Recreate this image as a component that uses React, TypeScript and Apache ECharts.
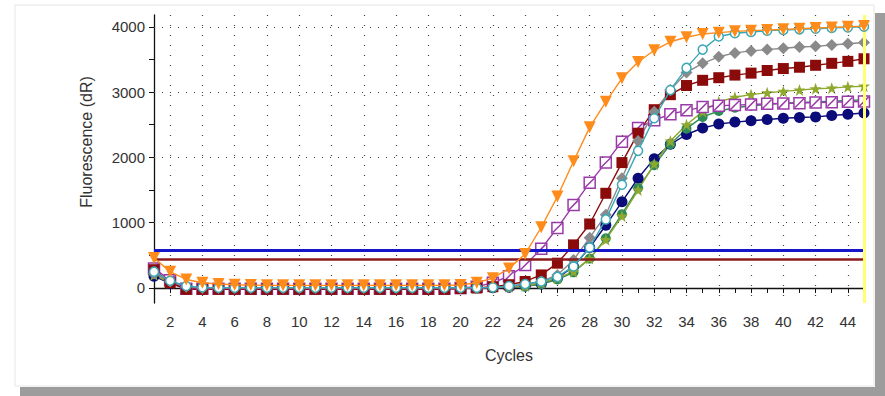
import React, { useEffect, useRef } from "react";
import * as echarts from "echarts";

const cycles: string[] = Array.from({ length: 45 }, (_, i) => String(i + 1));

const yTickValues = [0, 500, 1000, 1500, 2000, 2500, 3000, 3500, 4000];
const yLabelValues = [0, 1000, 2000, 3000, 4000];
const gridYValues = [1000, 2000, 3000, 4000];

const thresholdBlue = 582;
const thresholdRed = 444;

const orange = [460, 250, 130, 80, 60, 50, 45, 40, 40, 40, 40, 40, 40, 40, 40, 40, 40, 40, 40, 45, 80, 150, 300, 520, 930, 1400, 1940, 2460, 2850, 3210, 3460, 3640, 3770, 3840, 3890, 3910, 3930, 3940, 3950, 3960, 3970, 3980, 3990, 4000, 4010];
const cyan = [250, 110, 30, 10, 5, 5, 5, 5, 5, 5, 5, 5, 5, 5, 5, 5, 5, 5, 5, 5, 5, 10, 30, 60, 100, 170, 330, 620, 1050, 1580, 2100, 2600, 3030, 3370, 3650, 3850, 3900, 3920, 3940, 3950, 3960, 3970, 3980, 3990, 4000];
const gray = [220, 100, 20, 0, 0, 0, 0, 0, 0, 0, 0, 0, 0, 0, 0, 0, 0, 0, 0, 0, 0, 10, 20, 50, 100, 200, 430, 770, 1120, 1680, 2250, 2700, 3030, 3300, 3440, 3540, 3600, 3630, 3650, 3670, 3690, 3700, 3720, 3740, 3760];
const darkRed = [280, 80, -20, -20, -20, -20, -20, -20, -20, -20, -20, -20, -20, -20, -20, -20, -20, -20, -20, -10, 0, 20, 50, 100, 200, 380, 660, 980, 1450, 1920, 2370, 2730, 2960, 3100, 3180, 3220, 3260, 3290, 3330, 3360, 3380, 3410, 3440, 3470, 3510];
const purple = [300, 120, -10, -10, -10, -10, -10, -10, -10, -10, -10, -10, -10, -10, -10, -10, -10, -10, -10, 0, 20, 80, 180, 350, 600, 920, 1270, 1610, 1920, 2240, 2450, 2570, 2660, 2720, 2770, 2790, 2800, 2810, 2820, 2825, 2830, 2840, 2845, 2850, 2855];
const olive = [200, 80, 0, 0, 0, 0, 0, 0, 0, 0, 0, 0, 0, 0, 0, 0, 0, 0, 0, 0, 0, 10, 20, 30, 80, 150, 250, 450, 740, 1100, 1500, 1900, 2250, 2500, 2700, 2850, 2920, 2960, 2990, 3010, 3030, 3050, 3060, 3080, 3090];
const green = [230, 90, 0, 0, 0, 0, 0, 0, 0, 0, 0, 0, 0, 0, 0, 0, 0, 0, 0, 0, 0, 5, 10, 20, 60, 130, 240, 450, 760, 1130, 1530, 1880, 2200, 2440, 2620, 2710, 2760, 2790, 2810, 2830, 2840, 2850, 2860, 2870, 2880];
const navy = [180, 70, 0, 0, 0, 0, 0, 0, 0, 0, 0, 0, 0, 0, 0, 0, 0, 0, 0, 0, 0, 5, 10, 30, 60, 150, 330, 620, 960, 1320, 1680, 1980, 2200, 2350, 2450, 2510, 2540, 2560, 2580, 2600, 2610, 2620, 2640, 2660, 2680];

const TRI_DOWN = "path://M0,0L10,0L5,9Z";
const OPEN_SQ = "path://M0,0L10,0L10,10L0,10Z M1,9L9,1";
const STAR = "path://M5,0L6.2,3.4L9.8,3.4L6.9,5.6L8,9.2L5,7L2,9.2L3.1,5.6L0.2,3.4L3.8,3.4Z";
const DIAMOND = "path://M5,0L10,5L5,10L0,5Z";

const FONT = "'Liberation Sans', Arial, sans-serif";

function mkSeries(
  name: string,
  data: number[],
  color: string,
  symbol: string,
  size: number,
  fill: string,
  z: number
) {
  return {
    name,
    type: "line",
    data,
    symbol,
    symbolSize: size,
    showAllSymbol: true,
    z,
    lineStyle: { color, width: 1.4 },
    itemStyle: { color: fill, borderColor: color, borderWidth: fill === "#ffffff" ? 1.5 : 0 },
    emphasis: { disabled: true },
  };
}

export default function App() {
  const ref = useRef<HTMLDivElement>(null);
  useEffect(() => {
    if (!ref.current) return;
    const chart = echarts.init(ref.current, undefined, { renderer: "svg" });
    const option: any = {
      animation: false,
      backgroundColor: "#ffffff",
      grid: { left: 154, right: 21, top: 15, bottom: 93 },
      graphic: [
        { type: "rect", z: -10, shape: { x: 15, y: 5, width: 859, height: 381 }, style: { fill: "#ffffff", stroke: "#e6e6e6", lineWidth: 1 } },
        { type: "rect", z: -10, shape: { x: 875, y: 13, width: 10, height: 383 }, style: { fill: "#9c9c9c" } },
        { type: "rect", z: -10, shape: { x: 20, y: 387, width: 865, height: 9 }, style: { fill: "#9c9c9c" } },
        {
          type: "text",
          x: 86,
          y: 142,
          rotation: Math.PI / 2,
          style: { text: "Fluorescence (dR)", fill: "#333", font: `16px ${FONT}`, align: "center", verticalAlign: "middle" },
        },
      ],
      xAxis: {
        type: "category",
        data: cycles,
        boundaryGap: false,
        name: "Cycles",
        nameLocation: "middle",
        nameGap: 44,
        nameTextStyle: { color: "#333", fontSize: 16, fontFamily: FONT },
        axisLine: { lineStyle: { color: "#111", width: 1.3 } },
        axisTick: { interval: 0, length: 5, lineStyle: { color: "#111" } },
        axisLabel: {
          interval: (i: number) => (i + 1) % 2 === 0,
          color: "#333",
          fontSize: 15,
          fontFamily: FONT,
          margin: 11,
        },
        splitLine: {
          show: true,
          interval: (i: number) => (i + 1) % 2 === 0,
          lineStyle: { color: "#444", type: [1, 9], width: 1.2 },
        },
      },
      yAxis: {
        type: "value",
        min: -230,
        max: 4180,
        axisLine: { show: true, lineStyle: { color: "#111", width: 1.3 } },
        axisTick: { show: true, customValues: yTickValues, length: 5, lineStyle: { color: "#111" } },
        axisLabel: {
          customValues: yLabelValues,
          formatter: (v: number) => String(v),
          color: "#333",
          fontSize: 15,
          fontFamily: FONT,
          margin: 9,
        },
        splitLine: { show: false },
      },
      series: [
        {
          type: "line",
          data: [],
          z: 1,
          silent: true,
          markLine: {
            silent: true,
            symbol: "none",
            label: { show: false },
            lineStyle: { color: "#444", type: [1, 7], width: 1.2 },
            data: gridYValues.map((v) => ({ yAxis: v })),
          },
        },
        mkSeries("navy", navy, "#0b0b7a", "circle", 11, "#0b0b7a", 3),
        mkSeries("green", green, "#2f8a5a", "circle", 10, "#2f8a5a", 3),
        mkSeries("olive", olive, "#8fa82e", STAR, 12, "#8fa82e", 3),
        mkSeries("purple", purple, "#9a3aa8", OPEN_SQ, 11, "#ffffff", 4),
        mkSeries("darkRed", darkRed, "#8b0a0a", "rect", 11, "#8b0a0a", 4),
        mkSeries("gray", gray, "#8a8a8a", DIAMOND, 12, "#8a8a8a", 4),
        mkSeries("cyan", cyan, "#3aa7b5", "circle", 9, "#ffffff", 5),
        mkSeries("orange", orange, "#ff8c1a", TRI_DOWN, 12, "#ff8c1a", 6),
        {
          type: "line",
          data: [],
          z: 10,
          silent: true,
          markLine: {
            silent: true,
            symbol: "none",
            label: { show: false },
            data: [
              { yAxis: thresholdBlue, lineStyle: { color: "#1515cc", width: 3, type: "solid" } },
              { yAxis: thresholdRed, lineStyle: { color: "#8b1a1a", width: 2.5, type: "solid" } },
              { xAxis: "45", lineStyle: { color: "#ffff70", width: 3, type: "solid" } },
            ],
          },
        },
      ],
    };
    chart.setOption(option);
    return () => chart.dispose();
  }, []);
  return (
    <div
      ref={ref}
      style={{ position: "fixed", left: 0, top: 0, width: 885, height: 396, background: "#fff" }}
    />
  );
}
